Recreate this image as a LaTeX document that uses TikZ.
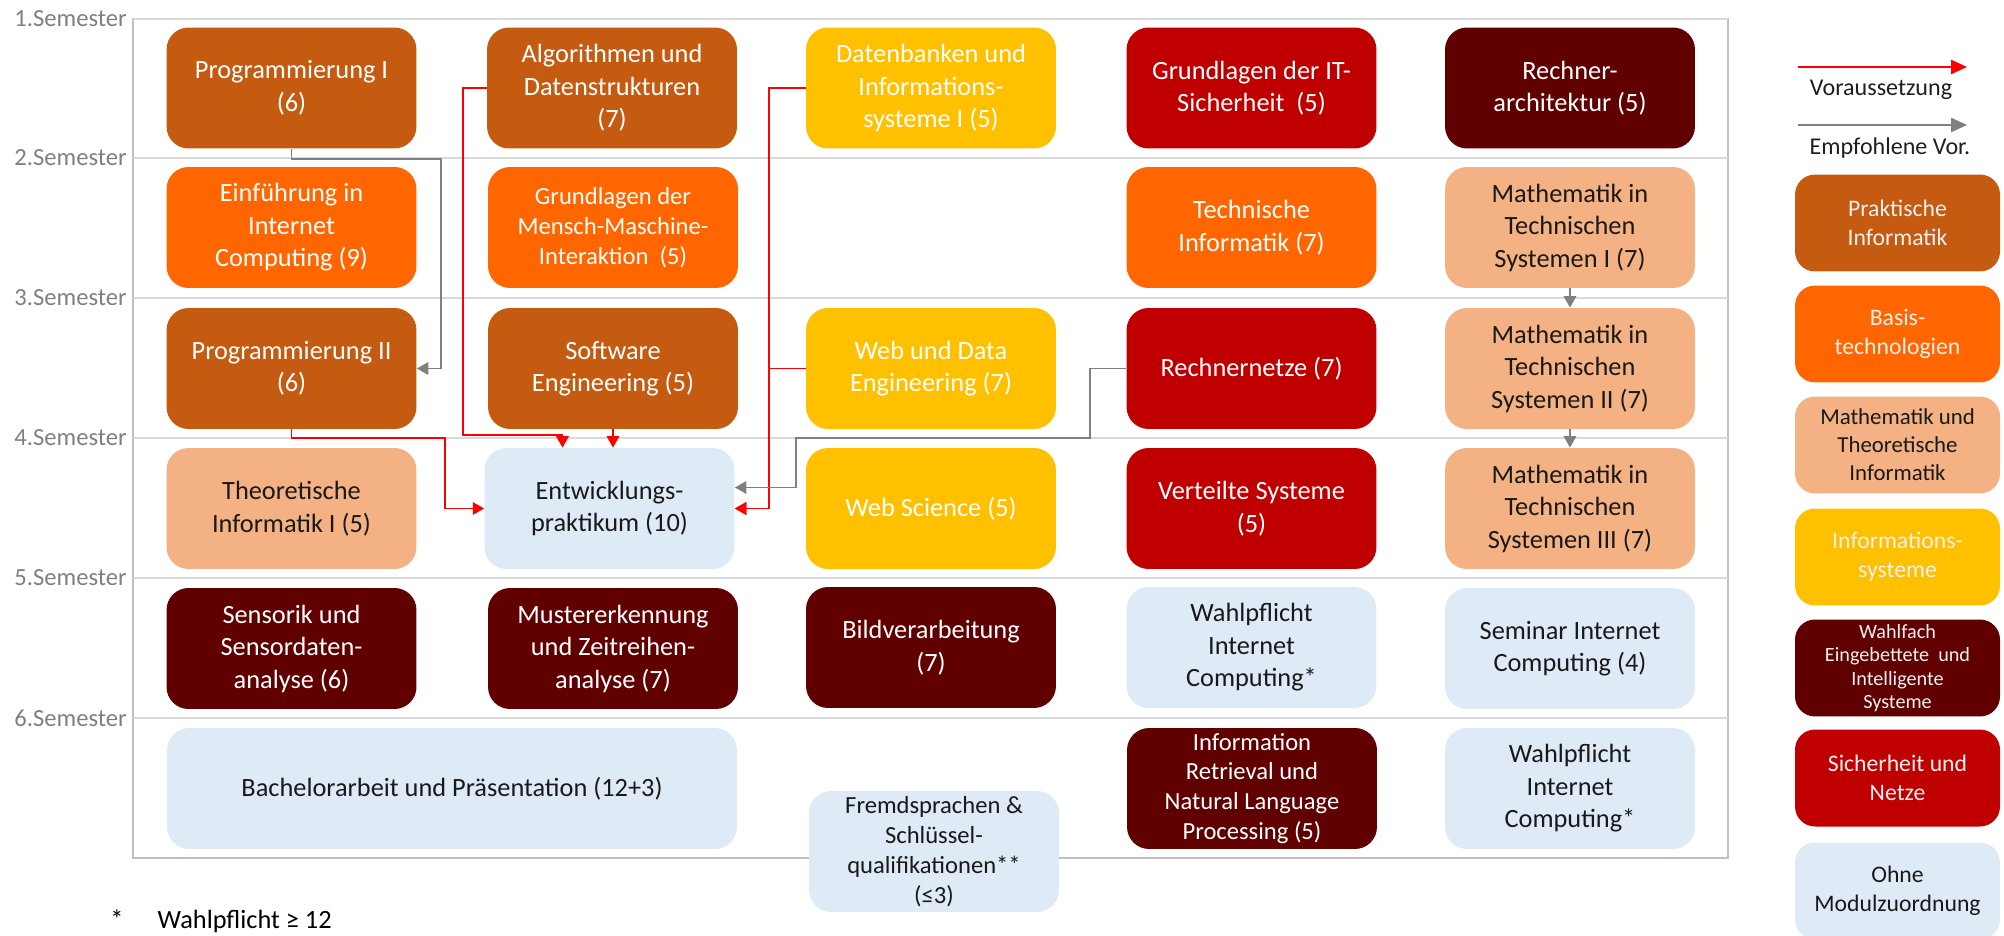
\documentclass[tikz,border=0pt]{standalone}
\usepackage{fontspec}
\setmainfont{Carlito}
\usetikzlibrary{arrows.meta,calc}

\definecolor{prakt}{HTML}{C55A11}
\definecolor{basis}{HTML}{FF6600}
\definecolor{mathti}{HTML}{F4B183}
\definecolor{infsys}{HTML}{FFC000}
\definecolor{wahlfach}{HTML}{600000}
\definecolor{sichnetz}{HTML}{C00000}
\definecolor{ohne}{HTML}{DEEBF7}
\definecolor{gridgray}{HTML}{D9D9D9}
\definecolor{framegray}{HTML}{BFBFBF}
\definecolor{semgray}{HTML}{7F7F7F}
\definecolor{recgray}{HTML}{808080}

\begin{document}
\begin{tikzpicture}[x=0.02cm, y=-0.02cm,
    mod/.style={rounded corners=0.44cm, minimum width=5cm, minimum height=2.42cm,
        inner sep=0pt, align=center, text=white, font=\fontsize{15}{18.5}\selectfont},
    lightmod/.style={mod, text=black!90},
    smalltext/.style={font=\fontsize{14}{17}\selectfont},
    legbox/.style={rounded corners=0.4cm, minimum width=4.1cm, minimum height=1.94cm,
        inner sep=0pt, align=center, text=white!94!black, font=\fontsize{13.5}{16.5}\selectfont},
    legtext/.style={text=black!88, font=\fontsize{13.7}{16.5}\selectfont, inner sep=0pt},
    semline/.style={draw=gridgray, line width=1.2pt},
    semlabel/.style={text=semgray, font=\fontsize{14}{17}\selectfont, anchor=east, inner sep=0pt},
    req/.style={draw=red, line width=1.1pt, -{Triangle[length=6.5pt,width=7pt]}},
    rec/.style={draw=recgray, line width=1.1pt, -{Triangle[length=6.5pt,width=7pt]}}]

    \useasboundingbox (0,0) rectangle (2004,936);

    \draw[framegray, line width=0.6pt] (133,18.7) rectangle (1728,858);
    \foreach \s/\y in {1/18.7, 2/158, 3/298, 4/438, 5/578, 6/718} {
        \draw[semline] (133,\y) -- (1728,\y);
        \node[semlabel] (sem\s) at (127,\y) {\s.Semester};
    }

    \node[mod, fill=prakt] (prog1) at (291.5,88) {Programmierung I\\(6)};
    \node[mod, fill=prakt] (algo) at (612,88) {Algorithmen und\\Datenstrukturen\\(7)};
    \node[mod, fill=infsys] (dbis) at (931,88) {Datenbanken und\\Informations-\\systeme I (5)};
    \node[mod, fill=sichnetz] (itsec) at (1251.5,88) {Grundlagen der IT-\\Sicherheit\ \ (5)};
    \node[mod, fill=wahlfach] (rearch) at (1570,88) {Rechner-\\architektur (5)};

    \node[mod, fill=basis] (eic) at (291.5,227.5) {Einführung in\\Internet\\Computing (9)};
    \node[mod, fill=basis, smalltext] (mmi) at (613,227.5) {Grundlagen der\\Mensch-Maschine-\\Interaktion\ \ (5)};
    \node[mod, fill=basis] (techinf) at (1251.5,227.5) {Technische\\Informatik (7)};
    \node[lightmod, fill=mathti] (mts1) at (1570,227.5) {Mathematik in\\Technischen\\Systemen I (7)};

    \node[mod, fill=prakt] (prog2) at (291.5,368.5) {Programmierung II\\(6)};
    \node[mod, fill=prakt] (softeng) at (613,368.5) {Software\\Engineering (5)};
    \node[mod, fill=infsys] (wde) at (931,368.5) {Web und Data\\Engineering (7)};
    \node[mod, fill=sichnetz] (rnetze) at (1251.5,368.5) {Rechnernetze (7)};
    \node[lightmod, fill=mathti] (mts2) at (1570,368.5) {Mathematik in\\Technischen\\Systemen II (7)};

    \node[lightmod, fill=mathti] (theo) at (291.5,508.5) {Theoretische\\Informatik I (5)};
    \node[lightmod, fill=ohne] (ep) at (609.5,508.5) {Entwicklungs-\\praktikum (10)};
    \node[mod, fill=infsys] (websci) at (931,508.5) {Web Science (5)};
    \node[mod, fill=sichnetz] (vsys) at (1251.5,508.5) {Verteilte Systeme\\(5)};
    \node[lightmod, fill=mathti] (mts3) at (1570,508.5) {Mathematik in\\Technischen\\Systemen III (7)};

    \node[mod, fill=wahlfach] (sensor) at (291.5,648.5) {Sensorik und\\Sensordaten-\\analyse (6)};
    \node[mod, fill=wahlfach] (muster) at (613,648.5) {Mustererkennung\\und Zeitreihen-\\analyse (7)};
    \node[mod, fill=wahlfach] (bildv) at (931,647.5) {Bildverarbeitung\\(7)};
    \node[lightmod, fill=ohne] (wpicA) at (1251.5,647.5) {Wahlpflicht\\Internet\\Computing*};
    \node[lightmod, fill=ohne] (semic) at (1570,648.5) {Seminar Internet\\Computing (4)};

    \node[lightmod, fill=ohne, minimum width=11.4cm] (bachelor) at (452,788.5) {Bachelorarbeit und Präsentation (12+3)};
    \node[lightmod, fill=ohne, smalltext] (fremd) at (934,851.5) {Fremdsprachen \&\\Schlüssel-\\qualifikationen**\\(≤3)};
    \node[mod, fill=wahlfach, smalltext] (infret) at (1252,788.5) {Information\\Retrieval und\\Natural Language\\Processing (5)};
    \node[lightmod, fill=ohne] (wpicB) at (1570,788.5) {Wahlpflicht\\Internet\\Computing*};

    \draw[rec] (prog1.south) |- (441,159) |- (prog2.east);
    \draw[req] (algo.west) -| (463,435) -| ($(ep.north)+(-47,0)$);
    \draw[req] (softeng.south) -- (softeng.south |- ep.north);
    \draw[req] (prog2.south) |- (445,438) |- (ep.west);
    \draw[req] (dbis.west) -| ($(ep.east)+(34,0)$) -- (ep.east);
    \draw[req] (wde.west) -| ($(ep.east)+(34,0)$) -- (ep.east);
    \draw[rec] (rnetze.west) -| (1090,438) -| ($(ep.east)+(61,-21)$) -- ($(ep.east)+(0,-21)$);
    \draw[rec] (mts1.south) -- (mts2.north);
    \draw[rec] (mts2.south) -- (mts3.north);

    \coordinate (reqA) at (1798,67);
    \coordinate (reqB) at (1967,67);
    \coordinate (recA) at (1798,125);
    \coordinate (recB) at (1967,125);
    \draw[req, -{Triangle[length=9pt,width=8pt]}] (reqA) -- (reqB);
    \draw[rec, -{Triangle[length=9pt,width=8pt]}] (recA) -- (recB);
    \node[legtext] (lreq) at (1881,90) {Voraussetzung};
    \node[legtext] (lrec) at (1890,148) {Empfohlene Vor.};

    \node[legbox, fill=prakt] (lprakt) at (1897.5,223) {Praktische\\Informatik};
    \node[legbox, fill=basis] (lbasis) at (1897.5,334) {Basis-\\technologien};
    \node[legbox, fill=mathti, text=black!90, font=\fontsize{13}{16}\selectfont] (lmath) at (1897.5,445) {Mathematik und\\Theoretische\\Informatik};
    \node[legbox, fill=infsys] (linf) at (1897.5,557) {Informations-\\systeme};
    \node[legbox, fill=wahlfach, font=\fontsize{11.5}{13.4}\selectfont] (lwahl) at (1897.5,668) {Wahlfach\\Eingebettete\ \ und\\Intelligente\\Systeme};
    \node[legbox, fill=sichnetz] (lsich) at (1897.5,778) {Sicherheit und\\Netze};
    \node[legbox, fill=ohne, text=black!90] (lohne) at (1897.5,891) {Ohne\\Modulzuordnung};

    \node[anchor=south west, inner sep=0pt, font=\fontsize{15}{18}\selectfont] (fnote) at (110,933) {*\hspace{1.3em}Wahlpflicht ≥ 12};
\end{tikzpicture}
\end{document}
